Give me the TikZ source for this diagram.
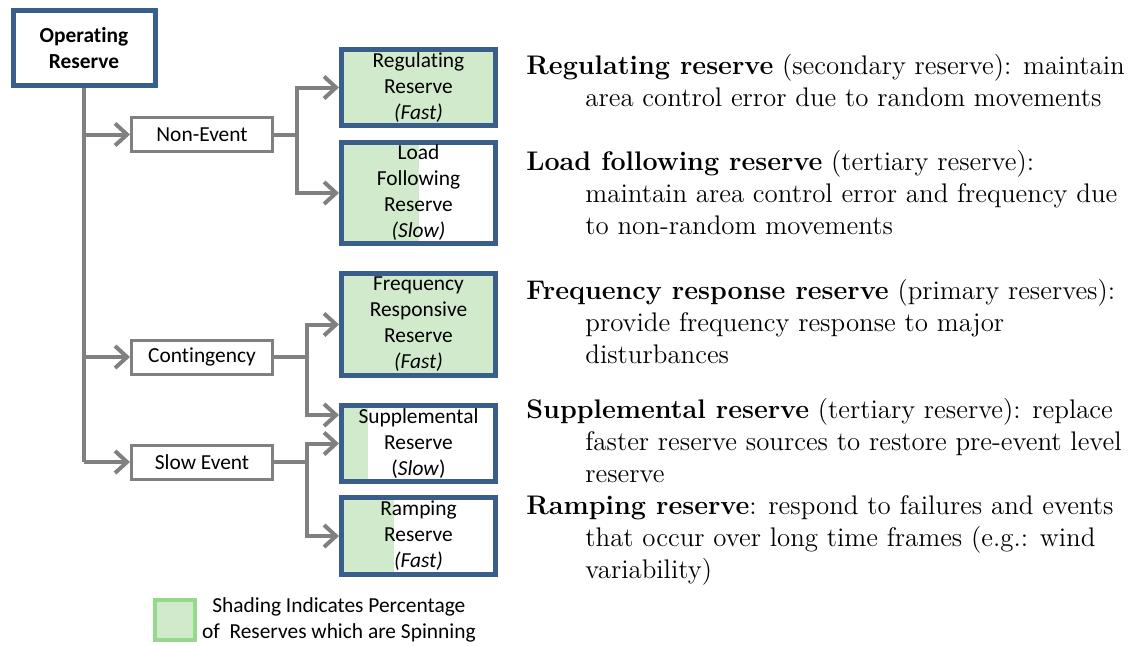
\documentclass[tikz,border=0pt]{standalone}
\usepackage{fontspec}
\newfontfamily\carlito[RawFeature={-liga}]{Carlito}
\usepackage{tikz}
\usetikzlibrary{arrows.meta,calc}

\definecolor{resblue}{HTML}{3A5E8C}
\definecolor{linkgray}{HTML}{808080}
\definecolor{spingreen}{HTML}{D2EACC}
\definecolor{legendgreen}{HTML}{97D98C}

\tikzset{
  boxfont/.style={font=\carlito\fontsize{10.7}{13}\selectfont},
  topbox/.style={boxfont, draw=resblue, line width=2.5pt, fill=white,
    minimum width=71pt, minimum height=37.5pt, align=center, inner sep=0pt},
  eventbox/.style={boxfont, draw=linkgray, line width=1.5pt, fill=white,
    minimum width=70.5pt, minimum height=17pt, inner sep=0pt},
  reservebox/.style={boxfont, draw=resblue, line width=2.5pt,
    minimum width=77pt, align=center, inner sep=0pt},
  spin/.style={path picture={
    \fill[spingreen] (path picture bounding box.south west) rectangle
      ($(path picture bounding box.north west)!#1!(path picture bounding box.north east)$);}},
  link/.style={draw=linkgray, line width=2pt},
  arrow/.style={link, -{Straight Barb[length=6pt,width=11pt,line width=2pt]}},
  desc/.style={anchor=base west, align=left, inner sep=0pt,
    font=\fontsize{13.45}{16}\selectfont}
}

\newcommand{\ind}{\hspace*{29.5pt}}

\begin{document}
\begin{tikzpicture}[x=0.5pt,y=-0.5pt]
\useasboundingbox (0,0) rectangle (1131,645);

% top of the tree
\node[topbox] (op) at (84,48) {\bfseries Operating\\\bfseries Reserve};

% event types
\node[eventbox] (ne) at (202,134.5) {Non-Event};
\node[eventbox] (cont) at (202,357) {Contingency};
\node[eventbox] (se) at (202,462) {Slow Event};

% reserve types (shading = spinning share)
\node[reservebox, spin=1, minimum height=38pt] (reg) at (418.5,87.5) {Regulating\\Reserve\\\itshape (Fast)};
\node[reservebox, spin=0.5, minimum height=50.5pt] (lf) at (418.5,193) {Load\\Following\\Reserve\\\itshape (Slow)};
\node[reservebox, spin=1, minimum height=51pt] (fr) at (418.5,324.5) {Frequency\\Responsive\\Reserve\\\itshape (Fast)};
\node[reservebox, spin=0.17, minimum height=38pt] (sup) at (418.5,443.5) {Supplemental\\Reserve\\(\textit{Slow})};
\node[reservebox, spin=0.34, minimum height=38.5pt] (ramp) at (418.5,536) {Ramping\\Reserve\\\itshape (Fast)};

% trunk and branches
\draw[link] (op.south) -- (op.south |- se.west);
\draw[arrow] (op.south |- ne.west) -- (ne.west);
\draw[arrow] (op.south |- cont.west) -- (cont.west);
\draw[arrow] (op.south |- se.west) -- (se.west);

\draw[link] (ne.east) -- ++(23,0) coordinate (j1);
\draw[arrow] (j1) |- (reg.west);
\draw[arrow] (j1) |- (lf.west);

\coordinate (supin) at ($(sup.west)+(0,-28.5)$);
\draw[link] (cont.east) -- ++(33,0) coordinate (j2);
\draw[arrow] (j2) |- (fr.west);
\draw[arrow] (j2) |- (supin);

\draw[link] (se.east) -- ++(33,0) coordinate (j3);
\draw[arrow] (j3) |- (sup.west);
\draw[arrow] (j3) |- (ramp.west);

% legend
\node[draw=legendgreen, fill=spingreen, line width=2pt, minimum size=20pt] (key) at (175,620) {};
\node[boxfont, align=center, anchor=west] (keytext) at (195,620)
  {Shading Indicates Percentage\\of~ Reserves which are Spinning};

% descriptions (anchored on the last line)
\node[desc] (dreg) at (526,106) {\textbf{Regulating reserve} (secondary reserve): maintain\\
  \ind area control error due to random movements};
\node[desc] (dlf) at (526,234) {\textbf{Load following reserve} (tertiary reserve):\\
  \ind maintain area control error and frequency due\\
  \ind to non-random movements};
\node[desc] (dfr) at (526,363) {\textbf{Frequency response reserve} (primary reserves):\\
  \ind provide frequency response to major\\
  \ind disturbances};
\node[desc] (dsup) at (526,482) {\textbf{Supplemental reserve} (tertiary reserve): replace\\
  \ind faster reserve sources to restore pre-event level\\
  \ind reserve};
\node[desc] (dramp) at (526,578) {\textbf{Ramping reserve}: respond to failures and events\\
  \ind that occur over long time frames (e.g.: wind\\
  \ind variability)};
\end{tikzpicture}
\end{document}
